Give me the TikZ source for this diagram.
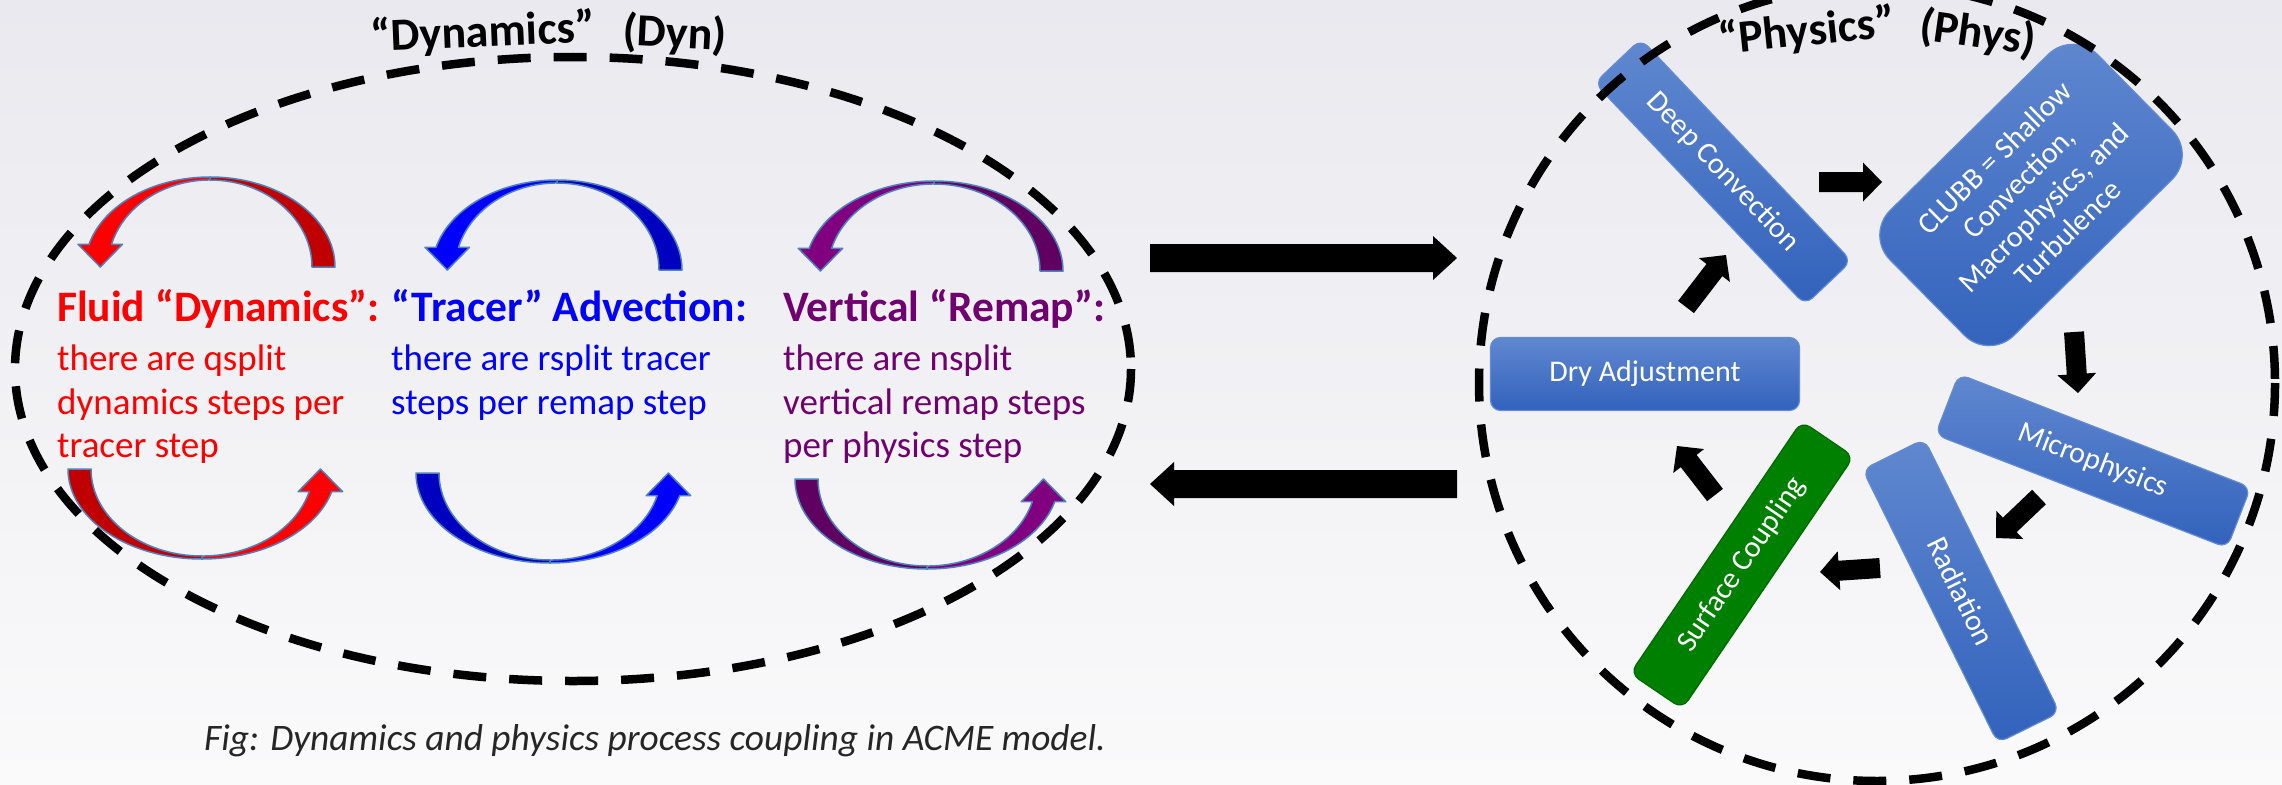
\documentclass[tikz,border=0pt]{standalone}
\usepackage{fontspec}
\setmainfont{Carlito}
\usetikzlibrary{calc}
\definecolor{bgtop}{RGB}{233,233,239}
\definecolor{bgbot}{RGB}{250,250,251}
\definecolor{cred}{RGB}{255,0,0}
\definecolor{credd}{RGB}{192,0,0}
\definecolor{cblue}{RGB}{0,0,255}
\definecolor{cblued}{RGB}{0,0,192}
\definecolor{cpur}{RGB}{128,0,128}
\definecolor{cpurd}{RGB}{96,0,96}
\definecolor{tpur}{RGB}{112,0,112}
\definecolor{arrline}{RGB}{79,129,189}
\definecolor{boxtop}{RGB}{96,136,208}
\definecolor{boxbot}{RGB}{50,98,188}
\definecolor{boxline}{RGB}{100,140,210}
\definecolor{sgreen}{RGB}{0,128,0}
\definecolor{sgreenl}{RGB}{0,105,0}
\definecolor{capcol}{RGB}{38,38,38}
\newcommand\toparrow[5]{%
 \pgfmathsetmacro\ari{#3-23}%
 \pgfmathsetmacro\axo{#1-0.9677*#3}%
 \pgfmathsetmacro\axi{#1-0.9655*\ari}%
 \pgfmathsetmacro\axt{(\axo+\axi)/2}%
 \pgfmathsetmacro\ayb{#2-22.7}%
 \filldraw[carr, fill=#4] (#1+#3,#2) arc[start angle=360,end angle=270,x radius=#3,y radius=90] -- (#1,#2-87) arc[start angle=270,end angle=360,x radius=\ari,y radius=87] -- cycle;
 \filldraw[carr, fill=#5] (#1,#2-90) arc[start angle=270,end angle=194.6,x radius=#3,y radius=90] -- (\axo-11,\ayb) -- (\axt,#2) -- (\axi+11,\ayb) -- (\axi,\ayb) arc[start angle=195.1,end angle=270,x radius=\ari,y radius=87] -- cycle;
}
\newcommand\botarrow[5]{%
 \pgfmathsetmacro\ari{#3-23}%
 \pgfmathsetmacro\axo{#1+0.9677*#3}%
 \pgfmathsetmacro\axi{#1+0.9655*\ari}%
 \pgfmathsetmacro\axt{(\axo+\axi)/2}%
 \pgfmathsetmacro\ayb{#2+22.7}%
 \filldraw[carr, fill=#4] (#1-#3,#2) arc[start angle=180,end angle=90,x radius=#3,y radius=90] -- (#1,#2+87) arc[start angle=90,end angle=180,x radius=\ari,y radius=87] -- cycle;
 \filldraw[carr, fill=#5] (#1,#2+90) arc[start angle=90,end angle=14.6,x radius=#3,y radius=90] -- (\axo+11,\ayb) -- (\axt,#2) -- (\axi-11,\ayb) -- (\axi,\ayb) arc[start angle=15.1,end angle=90,x radius=\ari,y radius=87] -- cycle;
}
\newcommand\blk[5]{%
 \coordinate (bkH) at ($(#5)!#3!(#4)$);
 \fill[arrowblk] ($(#4)!#1!90:(#5)$) -- ($(bkH)!#1!90:(#5)$) -- ($(bkH)!#2!90:(#5)$) -- (#5) -- ($(bkH)!#2!-90:(#5)$) -- ($(bkH)!#1!-90:(#5)$) -- ($(#4)!#1!-90:(#5)$) -- cycle;
}
\begin{document}
\begin{tikzpicture}[x=1pt,y=-1pt,
 dashline/.style={line width=8.5pt, dash pattern=on 33pt off 23pt},
 carr/.style={draw=arrline, line width=1.5pt, line join=round},
 body/.style={anchor=base west, inner sep=0pt, font=\fontsize{37}{44}\selectfont},
 headt/.style={anchor=base west, inner sep=0pt, font=\bfseries\fontsize{43.5}{50}\selectfont},
 titlet/.style={inner sep=0pt, font=\bfseries\fontsize{46}{50}\selectfont},
 pbox/.style={draw=boxline, line width=1.2pt, rounded corners=10pt, top color=boxtop, bottom color=boxbot, text=white, font=\fontsize{30}{35}\selectfont, align=center, inner sep=0pt},
 arrowblk/.style={fill=black}]
\useasboundingbox (0,0) rectangle (2282,784);
\shade[top color=bgtop, bottom color=bgbot] (0,0) rectangle (2282,784);

% curved arrows
\toparrow{210}{267}{125}{credd}{cred}
\toparrow{557}{270}{125}{cblued}{cblue}
\toparrow{934}{271}{129}{cpurd}{cpur}
\botarrow{202}{469}{134}{credd}{cred}
\botarrow{550}{473}{134}{cblued}{cblue}
\botarrow{927}{479}{132}{cpurd}{cpur}

% texts
\node[headt, text=cred] (fh) at (57,321) {Fluid “Dynamics”:};
\node[body, text=cred] (f1) at (57,370) {there are qsplit};
\node[body, text=cred] (f2) at (57,414) {dynamics steps per};
\node[body, text=cred] (f3) at (57,457) {tracer step};
\node[headt, text=cblue] (th) at (391,321) {“Tracer” Advection:};
\node[body, text=cblue] (t1) at (391,370) {there are rsplit tracer};
\node[body, text=cblue] (t2) at (391,414) {steps per remap step};
\node[headt, text=tpur] (vh) at (783,321) {Vertical “Remap”:};
\node[body, text=tpur] (v1) at (783,370) {there are nsplit};
\node[body, text=tpur] (v2) at (783,414) {vertical remap steps};
\node[body, text=tpur] (v3) at (783,457) {per physics step};

% physics boxes
\node[pbox, minimum width=306pt, minimum height=64pt, rotate=-46.5] (deep) at (1723,172) {Deep Convection};
\node[pbox, minimum width=292pt, minimum height=176pt, rounded corners=35pt, rotate=44.6] (clubb) at (2031,195) {CLUBB = Shallow\\Convection,\\Macrophysics, and\\Turbulence};
\node[pbox, minimum width=309pt, minimum height=73pt] (dry) at (1645,374) {Dry Adjustment};
\node[pbox, minimum width=313pt, minimum height=65pt, rotate=-21.2] (micro) at (2093,461) {Microphysics};
\node[pbox, minimum width=305pt, minimum height=69pt, rotate=-63.7] (rad) at (1961,591) {Radiation};
\node[pbox, minimum width=305pt, minimum height=63pt, rotate=55.8, draw=sgreenl, top color=sgreen, bottom color=sgreen] (surf) at (1742,565) {Surface Coupling};

% block arrows in physics cycle
\coordinate (a1t) at (1819,182); \coordinate (a1h) at (1882,182);
\coordinate (a2t) at (2074,332); \coordinate (a2h) at (2078,393);
\coordinate (a3t) at (2039,497); \coordinate (a3h) at (1996,538);
\coordinate (a4t) at (1880,568); \coordinate (a4h) at (1820,572);
\coordinate (a5t) at (1715,495); \coordinate (a5h) at (1677,446);
\coordinate (a6t) at (1686,307); \coordinate (a6h) at (1726,255);
\blk{10pt}{19.5pt}{19pt}{a1t}{a1h}
\blk{10pt}{19.5pt}{19pt}{a2t}{a2h}
\blk{10pt}{19.5pt}{19pt}{a3t}{a3h}
\blk{10pt}{19.5pt}{19pt}{a4t}{a4h}
\blk{10pt}{19.5pt}{19pt}{a5t}{a5h}
\blk{10pt}{19.5pt}{19pt}{a6t}{a6h}

% big coupling arrows
\coordinate (bt1) at (1150,258); \coordinate (bh1) at (1457,258);
\coordinate (bt2) at (1457,484); \coordinate (bh2) at (1150,484);
\blk{14pt}{22pt}{24pt}{bt1}{bh1}
\blk{14pt}{22pt}{24pt}{bt2}{bh2}

% dashed outlines
\draw[dashline] (573,369) ellipse[x radius=558, y radius=312];
\draw[dashline] (1877,383) circle[radius=398];

% titles (slightly arched)
\node[titlet, anchor=base east, rotate=2.3] (dyn1) at (596,42) {“Dynamics”};
\node[titlet, anchor=base west, rotate=-3] (dyn2) at (622,45) {(Dyn)};
\node[titlet, anchor=base east, rotate=6] (phy1) at (1897,36) {“Physics”};
\node[titlet, anchor=base west, rotate=-8] (phy2) at (1918,39) {(Phys)};

\node[anchor=base west, inner sep=0pt, font=\itshape\fontsize{37.4}{42}\selectfont, text=capcol] (cap) at (204,750) {Fig: Dynamics and physics process coupling in ACME model.};
\end{tikzpicture}
\end{document}
